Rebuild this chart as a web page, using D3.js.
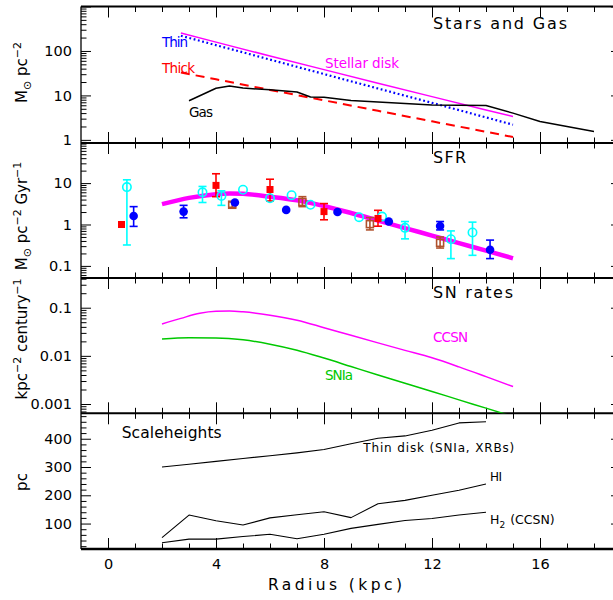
<!DOCTYPE html>
<html>
<head>
<meta charset="utf-8">
<script src="https://cdn.jsdelivr.net/npm/d3@7"></script>
<style>
  body { margin: 0; background: #fff; }
  svg { display: block; }
  text { font-family: "DejaVu Sans", sans-serif; }
</style>
</head>
<body>
<svg id="chart" width="613" height="600"></svg>
<script>
// ---------- Stars and gas surface densities (Msun pc^-2) ----------
const diskRadius   = [2.7, 4, 6, 8, 10, 12, 14, 15];
const stellarDisk  = [253, 158, 77, 38, 18.8, 9.4, 4.7, 3.35];
const thinDisk     = [220, 135, 64, 30.2, 14.3, 6.8, 3.2, 2.19];
const thickDisk    = [32.7, 23.0, 13.3, 7.75, 4.5, 2.61, 1.52, 1.16];
const gasRadius    = [3, 4, 4.5, 5, 6, 7, 7.5, 8, 9, 12, 14, 15, 16, 18];
const gasDensity   = [7.6, 14.5, 16.3, 14.6, 13.4, 11.9, 9.2, 9.1, 7.7, 6.1, 5.9, 4.0, 2.6, 1.55];

// ---------- Star formation rate (Msun pc^-2 Gyr^-1) ----------
const sfrModelRadius = [2, 3, 4, 4.5, 5, 6, 7, 8, 9, 10, 11, 12, 13, 14, 15];
const sfrModel       = [3.1, 4.4, 5.4, 5.6, 5.5, 4.7, 3.85, 2.8, 1.9, 1.25, 0.82, 0.54, 0.355, 0.234, 0.153];
// observed points: [radius, value, lower, upper]
const sfrRed   = [[0.5, 1.0, null, null], [4.0, 8.8, 4.7, 16.8], [6.0, 7.0, 3.7, 12.4], [8.0, 2.05, 1.3, 3.2], [10.0, 1.4, 0.91, 2.2]];
const sfrBlue  = [[0.95, 1.6, 0.9, 2.7], [2.8, 2.05, 1.45, 2.9], [4.7, 3.4, null, null], [6.6, 2.25, null, null], [8.5, 2.0, null, null],
                  [10.4, 1.18, null, null], [12.3, 0.92, 0.74, 1.18], [14.15, 0.245, 0.15, 0.42]];
const sfrCyan  = [[0.7, 8.0, 0.32, 12], [3.5, 6.0, 3.4, 8.3], [4.2, 4.9, 2.9, 6.5], [5.0, 6.9, null, null], [6.0, 4.3, null, null],
                  [6.8, 5.1, null, null], [7.5, 3.0, null, null], [9.3, 1.5, null, null], [10.15, 1.55, null, null],
                  [11.0, 0.83, 0.45, 1.18], [12.7, 0.44, 0.15, 0.7], [13.5, 0.64, 0.18, 1.14]];
const sfrBrown = [[4.6, 3.0, 2.6, 3.5], [7.2, 3.5, 2.7, 4.7], [9.7, 1.02, 0.74, 1.47], [12.3, 0.36, 0.27, 0.5]];

// ---------- Supernova rates (kpc^-2 century^-1) ----------
const ccsnRadius = [2, 2.7, 3.4, 4, 4.5, 5, 6, 7, 8, 9, 10, 11, 12, 13, 14, 15];
const ccsnRate   = [0.046, 0.060, 0.0765, 0.084, 0.085, 0.082, 0.070, 0.055, 0.0385, 0.0267, 0.0186, 0.0130, 0.0091, 0.0059, 0.0037, 0.0023];
const snIaRadius = [2, 3, 4, 5, 6, 7, 8, 9, 10, 11, 12, 13, 14, 15];
const snIaRate   = [0.0224, 0.0237, 0.0235, 0.0215, 0.0175, 0.0131, 0.0090, 0.0060, 0.0040, 0.0027, 0.00182, 0.00122, 0.00082, 0.00055];

// ---------- Scaleheights (pc) ----------
const heightRadius = [2, 3, 4, 5, 6, 7, 8, 9, 10, 11, 12, 13, 14];
const thinHeight   = [300, 310, 320, 330, 340, 350, 362, 382, 402, 410, 430, 456, 460];
const hiHeight     = [50, 130, 110, 95, 120, 131, 142, 121, 170, 182, 200, 218, 240];
const h2Height     = [32, 45, 45, 54, 62, 46, 62, 83, 97, 111, 118, 130, 140];

// ---------- Axis ticks ----------
const radiusMajor = [0, 4, 8, 12, 16];
const radiusMinor = d3.range(0, 19).filter(v => radiusMajor.indexOf(v) < 0);
const starsTicks  = [1, 10, 100];
const sfrTicks    = [0.1, 1, 10];
const snTicks     = [0.001, 0.01, 0.1];
const heightTicks = [100, 200, 300, 400];

// ---------- Layout ----------
const svg = d3.select("#chart");
const X0 = 81, X1 = 621;
const edges = [6.5, 143, 278, 413.3, 549];

const x = d3.scaleLinear().domain([-1, 19]).range([X0, X1]);
const yStars = d3.scaleLog().domain([0.85, 1000]).range([edges[1], edges[0]]);
const ySfr   = d3.scaleLog().domain([0.051, 93]).range([edges[2], edges[1]]);
const ySn    = d3.scaleLog().domain([0.000641, 0.414]).range([edges[3], edges[2]]);
const yH     = d3.scaleLinear().domain([10, 490]).range([edges[4], edges[3]]);

const defs = svg.append("defs");
edges.slice(0, 4).forEach((top, i) => {
  defs.append("clipPath").attr("id", "clip" + i)
    .append("rect").attr("x", X0).attr("y", top).attr("width", X1 - X0).attr("height", edges[i + 1] - top);
});

const isPow10 = v => Math.abs(Math.log10(v) - Math.round(Math.log10(v))) < 1e-9;

function styleAxis(g) {
  g.select(".domain").remove();
  g.attr("font-family", "DejaVu Sans, sans-serif").attr("font-size", 14.5).attr("color", "#000");
  g.selectAll(".tick line").attr("stroke-width", 1);
}

// Radius ticks along every panel edge
edges.forEach((yy, i) => {
  if (i < 4) {
    svg.append("g").attr("transform", `translate(0,${yy})`)
      .call(d3.axisTop(x).tickValues(radiusMajor).tickSize(-11).tickFormat(""))
      .call(styleAxis);
    svg.append("g").attr("transform", `translate(0,${yy})`)
      .call(d3.axisTop(x).tickValues(radiusMinor).tickSize(-5.5).tickFormat(""))
      .call(styleAxis);
  }
  if (i > 0) {
    const last = i === 4;
    svg.append("g").attr("transform", `translate(0,${yy})`)
      .call(d3.axisBottom(x).tickValues(radiusMajor).tickSize(-11).tickPadding(10)
        .tickFormat(last ? d3.format("d") : ""))
      .call(styleAxis);
    svg.append("g").attr("transform", `translate(0,${yy})`)
      .call(d3.axisBottom(x).tickValues(radiusMinor).tickSize(-5.5).tickFormat(""))
      .call(styleAxis);
  }
});

// Vertical axes, left (labelled) and right
function yAxes(scale, majors, minors, fmt) {
  svg.append("g").attr("transform", `translate(${X0},0)`)
    .call(d3.axisLeft(scale).tickValues(majors).tickSize(-10).tickPadding(9).tickFormat(fmt))
    .call(styleAxis);
  svg.append("g").attr("transform", `translate(${X0},0)`)
    .call(d3.axisLeft(scale).tickValues(minors).tickSize(-5.5).tickFormat(""))
    .call(styleAxis);
  svg.append("g").attr("transform", `translate(${X1},0)`)
    .call(d3.axisRight(scale).tickValues(majors).tickSize(-10).tickFormat(""))
    .call(styleAxis);
  svg.append("g").attr("transform", `translate(${X1},0)`)
    .call(d3.axisRight(scale).tickValues(minors).tickSize(-5.5).tickFormat(""))
    .call(styleAxis);
}
function logTicks(scale) {
  const [a, b] = scale.domain();
  return scale.ticks().filter(v => v >= a && v <= b);
}
function logMinor(scale) { return logTicks(scale).filter(v => !isPow10(v)); }
function logMajor(scale) { return logTicks(scale).filter(v => isPow10(v)); }

yAxes(yStars, logMajor(yStars), logMinor(yStars), v => starsTicks.indexOf(v) >= 0 ? d3.format("d")(v) : "");
yAxes(ySfr, logMajor(ySfr), logMinor(ySfr), v => sfrTicks.some(t => Math.abs(t - v) < 1e-9) ? String(+v.toPrecision(3)) : "");
yAxes(ySn, logMajor(ySn), logMinor(ySn), v => snTicks.some(t => Math.abs(t - v) < 1e-12) ? String(+v.toPrecision(3)) : "");
yAxes(yH, heightTicks, d3.range(20, 490, 20).filter(v => v % 100 !== 0), d3.format("d"));

// Frame
const frame = svg.append("g").attr("stroke", "#000");
edges.forEach((yy, i) => {
  frame.append("line").attr("x1", X0).attr("x2", X1).attr("y1", yy).attr("y2", yy)
    .attr("stroke-width", i === 4 ? 2.6 : 2);
});
[X0, X1].forEach(xx => {
  frame.append("line").attr("x1", xx).attr("x2", xx).attr("y1", edges[0]).attr("y2", edges[4]).attr("stroke-width", 1.3);
});

// ---------- Helpers ----------
function drawLine(panel, xs, ys, yScale, opts) {
  const pts = xs.map((r, i) => [r, ys[i]]);
  const line = d3.line().x(d => x(d[0])).y(d => yScale(d[1]));
  if (opts.curve) line.curve(opts.curve);
  svg.append("path").datum(pts)
    .attr("clip-path", `url(#clip${panel})`)
    .attr("fill", "none")
    .attr("stroke", opts.color)
    .attr("stroke-width", opts.width || 1.5)
    .attr("stroke-dasharray", opts.dash || null)
    .attr("stroke-linejoin", "round")
    .attr("d", line);
}

function label(xx, yy, txt, size, color, width) {
  const t = svg.append("text").attr("x", xx).attr("y", yy)
    .attr("font-size", size).attr("fill", color || "#000").text(txt);
  if (width) t.attr("textLength", width).attr("lengthAdjust", "spacing");
  return t;
}

// ---------- Panel 1: Stars and Gas ----------
drawLine(0, diskRadius, thickDisk, yStars, { color: "#ff0000", width: 2, dash: "9,6" });
drawLine(0, diskRadius, thinDisk, yStars, { color: "#0000ff", width: 2.2, dash: "1.8,2.6" });
drawLine(0, diskRadius, stellarDisk, yStars, { color: "#ff00ff", width: 1.5 });
drawLine(0, gasRadius, gasDensity, yStars, { color: "#000", width: 1.5 });

label(433, 29.3, "Stars and Gas", 16, "#000", 134);
label(162, 46.7, "Thin", 13.5, "#0000ff", 26);
label(162, 72.7, "Thick", 13.5, "#ff0000", 33);
label(189, 116.7, "Gas", 13.5, "#000", 24);
label(325, 68, "Stellar disk", 13.5, "#ff00ff", 74);

// ---------- Panel 2: SFR ----------
drawLine(1, sfrModelRadius, sfrModel, ySfr, { color: "#ff00ff", width: 4.5, curve: d3.curveMonotoneX });

function errorBars(data, color) {
  const g = svg.append("g").attr("stroke", color).attr("stroke-width", 1.6).attr("clip-path", "url(#clip1)");
  data.filter(d => d[2] !== null).forEach(d => {
    const cx = x(d[0]), lo = ySfr(d[2]), hi = ySfr(d[3]);
    g.append("line").attr("x1", cx).attr("x2", cx).attr("y1", lo).attr("y2", hi);
    g.append("line").attr("x1", cx - 4).attr("x2", cx + 4).attr("y1", lo).attr("y2", lo);
    g.append("line").attr("x1", cx - 4).attr("x2", cx + 4).attr("y1", hi).attr("y2", hi);
  });
}
errorBars(sfrBrown, "#b0522d");
errorBars(sfrCyan, "#00ffff");
errorBars(sfrRed, "#ff0000");
errorBars(sfrBlue, "#0000ff");

svg.append("g").selectAll("rect").data(sfrBrown).join("rect")
  .attr("x", d => x(d[0]) - 3.5).attr("y", d => ySfr(d[1]) - 3.5)
  .attr("width", 7).attr("height", 7)
  .attr("fill", "none").attr("stroke", "#b0522d").attr("stroke-width", 1.6);
svg.append("g").selectAll("circle").data(sfrCyan).join("circle")
  .attr("cx", d => x(d[0])).attr("cy", d => ySfr(d[1])).attr("r", 4.2)
  .attr("fill", "none").attr("stroke", "#00ffff").attr("stroke-width", 1.6);
svg.append("g").selectAll("rect").data(sfrRed).join("rect")
  .attr("x", d => x(d[0]) - 3.5).attr("y", d => ySfr(d[1]) - 3.5)
  .attr("width", 7).attr("height", 7).attr("fill", "#ff0000");
svg.append("g").selectAll("circle").data(sfrBlue).join("circle")
  .attr("cx", d => x(d[0])).attr("cy", d => ySfr(d[1])).attr("r", 4.3)
  .attr("fill", "#0000ff");

label(433, 163.3, "SFR", 16, "#000", 33);

// ---------- Panel 3: SN rates ----------
drawLine(2, ccsnRadius, ccsnRate, ySn, { color: "#ff00ff", width: 1.5, curve: d3.curveMonotoneX });
drawLine(2, snIaRadius, snIaRate, ySn, { color: "#00c800", width: 1.5, curve: d3.curveMonotoneX });

label(433, 298.3, "SN rates", 16, "#000", 80);
label(433, 341.7, "CCSN", 13.5, "#ff00ff", 35);
label(325, 380, "SNIa", 13.5, "#00c800", 28);

// ---------- Panel 4: Scaleheights ----------
drawLine(3, heightRadius, thinHeight, yH, { color: "#000", width: 1.1 });
drawLine(3, heightRadius, hiHeight, yH, { color: "#000", width: 1.1 });
drawLine(3, heightRadius, h2Height, yH, { color: "#000", width: 1.1 });

label(121.7, 438.3, "Scaleheights", 15.5, "#000", 100);
label(363.3, 452.3, "Thin disk (SNIa, XRBs)", 12, "#000", 151);
label(490, 481, "HI", 12, "#000", 12);
const h2 = svg.append("text").attr("x", 490).attr("y", 524).attr("font-size", 12.5);
h2.append("tspan").text("H");
h2.append("tspan").attr("dy", 4).attr("font-size", 9).text("2");
h2.append("tspan").attr("dy", -4).attr("dx", 5).text("(CCSN)");

// ---------- Axis titles ----------
label(268, 590, "Radius (kpc)", 15.5, "#000", 134);

function yTitle(cx, cy, parts, len) {
  const t = svg.append("text").attr("transform", `translate(${cx},${cy}) rotate(-90)`)
    .attr("text-anchor", "middle").attr("font-size", 15);
  if (len) t.attr("textLength", len).attr("lengthAdjust", "spacing");
  parts.forEach(p => {
    const s = t.append("tspan").text(p[0]);
    if (p[1]) s.attr("dy", p[1]);
    if (p[2]) s.attr("font-size", p[2]);
  });
}
yTitle(27, 72.5, [["M"], ["\u2299", 4, 11], [" pc", -4], ["\u22122", -6, 11]]);
yTitle(27, 216, [["M"], ["\u2299", 4, 11], [" pc", -4], ["\u22122", -6, 11], [" Gyr", 6], ["\u22121", -6, 11]]);
yTitle(27, 339, [["kpc"], ["\u22122", -6, 11], [" century", 6], ["\u22121", -6, 11]]);
yTitle(27, 482, [["pc"]]);
</script>
</body>
</html>
